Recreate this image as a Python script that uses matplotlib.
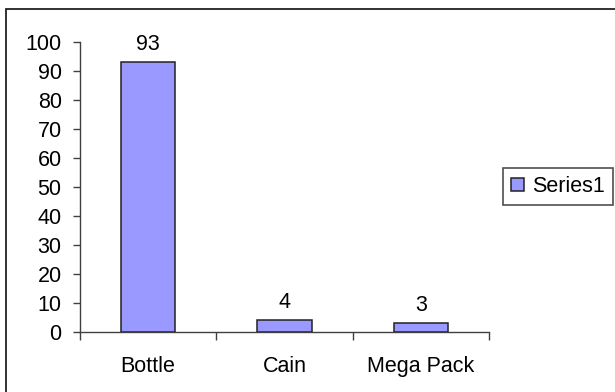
import matplotlib
matplotlib.use("Agg")
import matplotlib.pyplot as plt
from matplotlib.patches import Rectangle
import numpy as np

categories = ["Bottle", "Cain", "Mega Pack"]
values = [93, 4, 3]
series_name = "Series1"
y_ticks = [0, 10, 20, 30, 40, 50, 60, 70, 80, 90, 100]

W, H, DPI = 615, 392, 100
FONT = "Liberation Sans"
FS = 15.5
BAR_COLOR = "#9999FF"
EDGE = "#222222"
AXIS_COLOR = "#404040"

plt.rcParams["font.family"] = [FONT, "DejaVu Sans"]

fig = plt.figure(figsize=(W / DPI, H / DPI), dpi=DPI)
fig.patch.set_facecolor("white")

# chart-area frame (only top and left edges fall inside the canvas)
fig.add_artist(Rectangle((5.5 / W, -0.1), 1.2, (H - 9.5) / H + 0.1,
                         transform=fig.transFigure, fill=False,
                         edgecolor="#222222", linewidth=1.3))

ax = fig.add_axes([80 / W, (H - 332) / H, (489 - 80) / W, (332 - 42) / H])
x = np.arange(len(categories))
bars = ax.bar(x, values, width=0.4, color=BAR_COLOR, edgecolor=EDGE,
              linewidth=1.1, zorder=3)

for xi, v in zip(x, values):
    ax.annotate(f"{v}", (xi, v), xytext=(0, 8.6), textcoords="offset points",
                ha="center", va="baseline", fontsize=FS, color="black")

ax.set_xlim(-0.5, len(categories) - 0.5)
ax.set_ylim(0, 100)
ax.set_yticks(y_ticks)
ax.set_yticklabels([str(t) for t in y_ticks], fontsize=FS)
ax.tick_params(axis="y", direction="out", length=5.2, width=1.0,
               color=AXIS_COLOR, pad=8)

# boundary tick marks on x, labels at category centres
ax.set_xticks(np.arange(-0.5, len(categories)), minor=False)
ax.set_xticklabels([""] * (len(categories) + 1))
ax.tick_params(axis="x", which="major", direction="out", length=5.5,
               width=1.0, color=AXIS_COLOR)
ax.set_xticks(x, minor=True)
ax.set_xticklabels(categories, minor=True, fontsize=FS)
ax.tick_params(axis="x", which="minor", length=0, pad=17)

for side in ("top", "right"):
    ax.spines[side].set_visible(False)
for side in ("left", "bottom"):
    ax.spines[side].set_color(AXIS_COLOR)
    ax.spines[side].set_linewidth(1.0)
ax.set_facecolor("none")

leg = fig.legend([bars], [series_name], loc="center left",
                 bbox_to_anchor=(503 / W, 1 - 186.5 / H),
                 bbox_transform=fig.transFigure, fontsize=FS,
                 frameon=True, fancybox=False, shadow=False,
                 handlelength=0.59, handleheight=0.59, handletextpad=0.4,
                 borderpad=0.38, borderaxespad=0)
leg.get_frame().set_edgecolor("#222222")
leg.get_frame().set_linewidth(1.2)

fig.savefig("out.png", dpi=DPI, facecolor="white")
